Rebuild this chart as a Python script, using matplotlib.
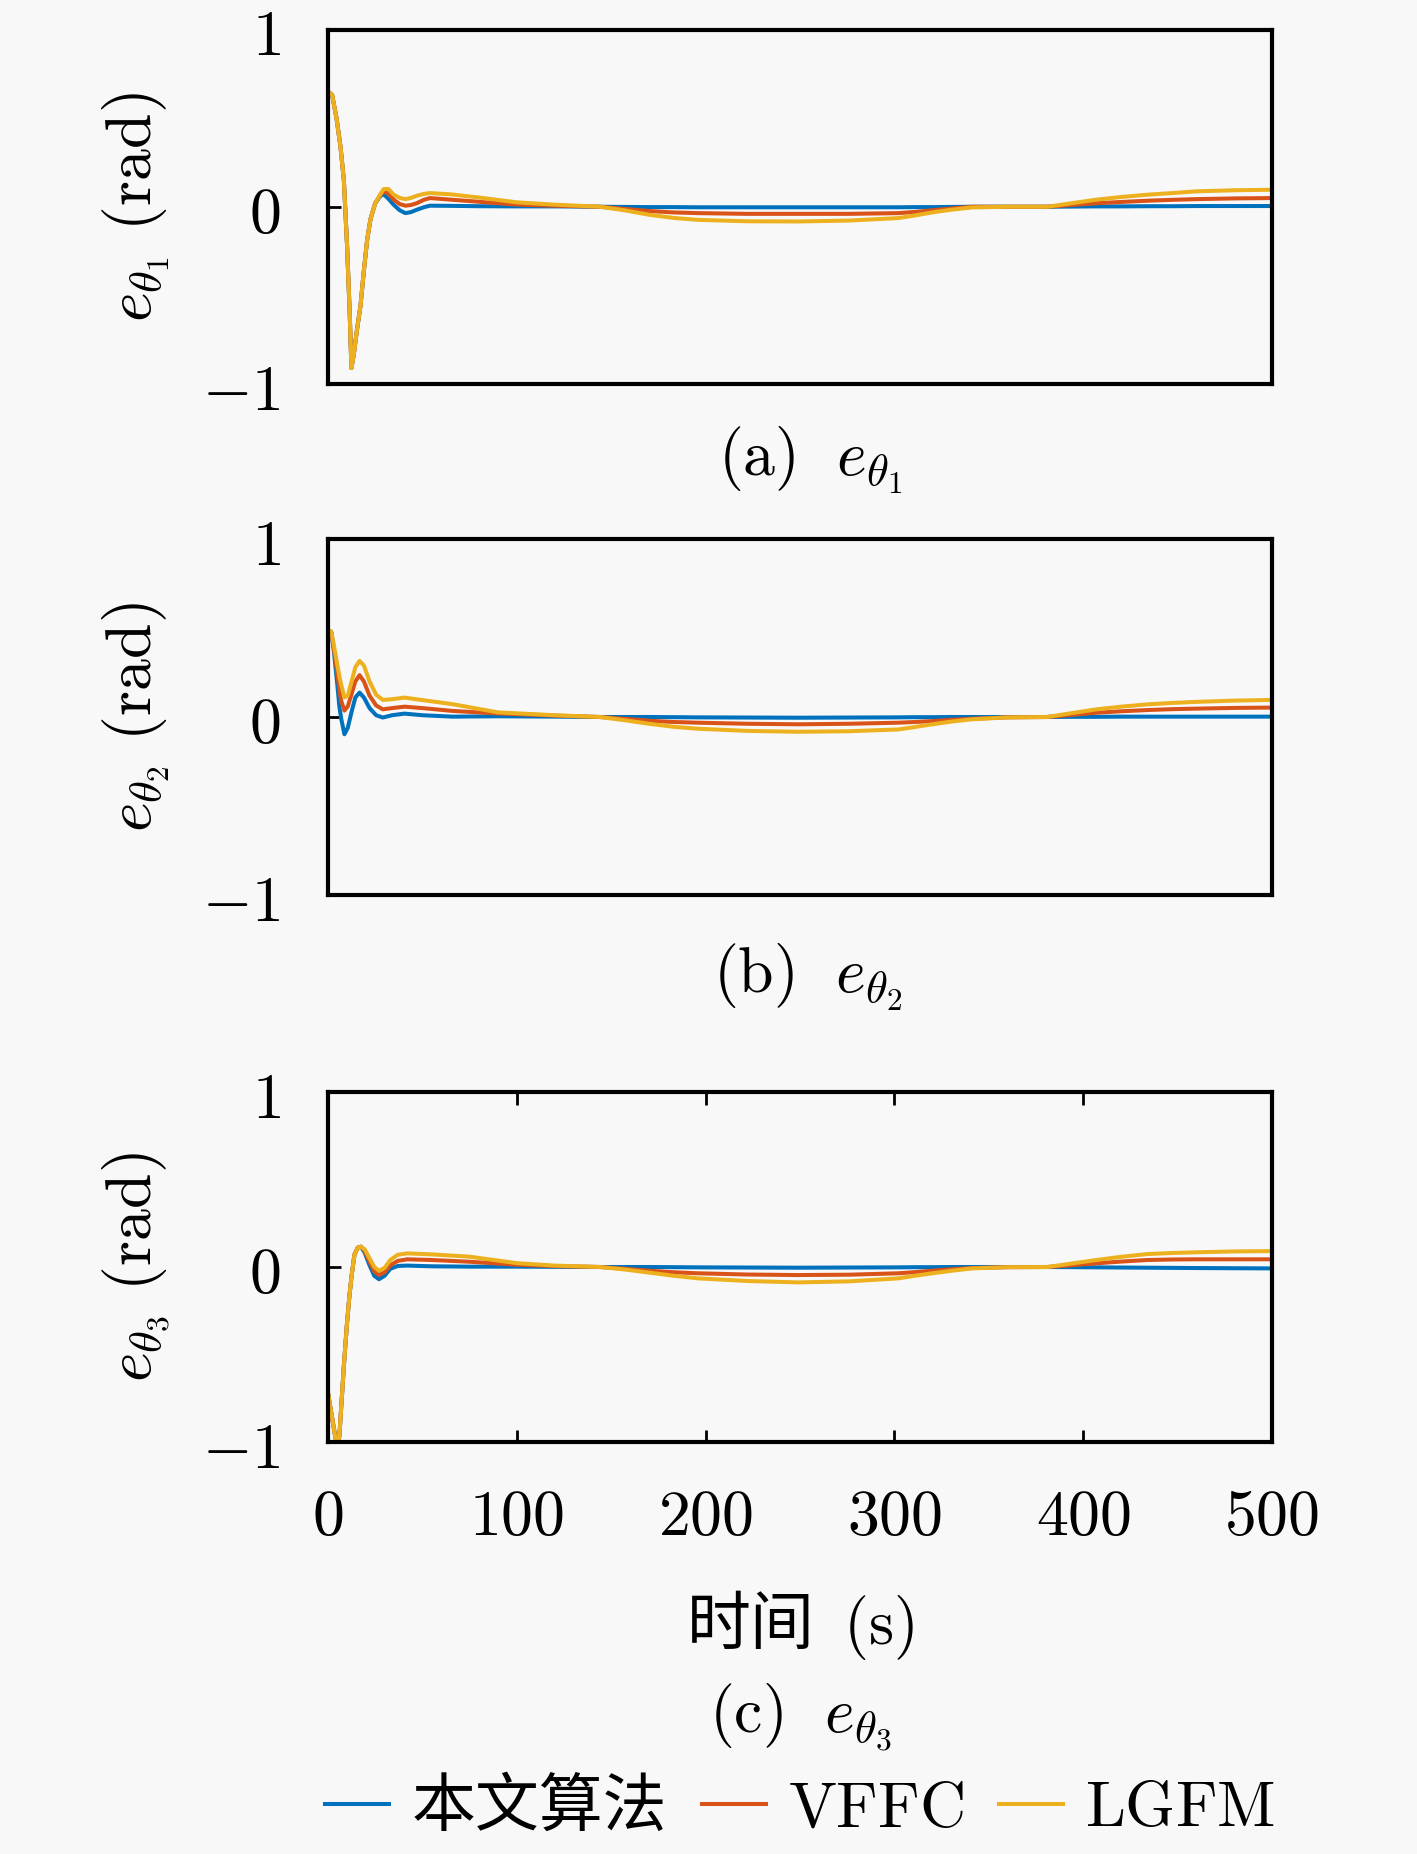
import numpy as np
import matplotlib.pyplot as plt

plt.rcParams['mathtext.fontset'] = 'cm'
plt.rcParams['font.family'] = ['Noto Sans CJK SC', 'DejaVu Sans']

# ---- data ----
x_ticks = [0, 100, 200, 300, 400, 500]
y_ticks = [-1, 0, 1]
labels = ['本文算法', r'$\mathrm{VFFC}$', r'$\mathrm{LGFM}$']
colors = ['#0072BD', '#D95319', '#EDB120']

# common slow part of the time axis
t_tail = [120, 144, 157, 170, 183, 196, 222, 249, 276, 302, 311, 320, 330, 341, 360, 381,
          394, 407, 420, 434, 447, 460, 480, 500]

# (a) e_theta1
t_a = [0, 2.2, 4.5, 6.6, 8.4, 10.1, 11.5, 12.4, 13.7, 15.4, 17.2, 19, 20.7, 22.5, 25, 27.8,
       29.5, 32, 34.8, 38, 41, 44, 47, 51, 54, 65, 80, 100] + t_tail
a_ours = [0.65, 0.63, 0.5, 0.34, 0.15, -0.22, -0.6, -0.91, -0.83, -0.69, -0.56, -0.36, -0.19, -0.07, 0.02, 0.062,
          0.07, 0.045, 0.011, -0.02, -0.036, -0.03, -0.017, -0.002, 0.006, 0.005, 0.003, 0.002,
          0.002, 0.0, -0.001, -0.002, -0.002, -0.003, -0.003, -0.003, -0.003, -0.003, -0.002, -0.002,
          -0.001, 0.0, 0.0, 0.0, 0.001, 0.002, 0.002, 0.003, 0.003, 0.004, 0.004, 0.004]
a_vffc = [0.65, 0.63, 0.5, 0.34, 0.15, -0.22, -0.6, -0.91, -0.83, -0.69, -0.56, -0.36, -0.19, -0.07, 0.02, 0.068,
          0.085, 0.075, 0.04, 0.015, 0.006, 0.01, 0.02, 0.04, 0.049, 0.04, 0.028, 0.012,
          0.006, 0.0, -0.012, -0.024, -0.032, -0.036, -0.04, -0.04, -0.04, -0.036, -0.029, -0.02,
          -0.01, 0.0, 0.0, 0.0, 0.01, 0.02, 0.027, 0.034, 0.039, 0.043, 0.047, 0.049]
a_lgfm = [0.65, 0.63, 0.5, 0.34, 0.15, -0.22, -0.6, -0.91, -0.83, -0.69, -0.56, -0.36, -0.19, -0.07, 0.02, 0.072,
          0.1, 0.1, 0.068, 0.05, 0.043, 0.05, 0.062, 0.073, 0.077, 0.07, 0.052, 0.025,
          0.012, 0.0, -0.02, -0.045, -0.063, -0.074, -0.082, -0.083, -0.078, -0.064, -0.049, -0.032,
          -0.017, -0.004, 0.0, 0.0, 0.02, 0.04, 0.055, 0.068, 0.077, 0.087, 0.093, 0.096]

# (b) e_theta2
t_b = [0, 1.7, 3, 5, 6, 7, 8.7, 10.5, 12.5, 14.5, 16.7, 19, 22, 25.5, 29, 34, 40.5, 50, 66, 90] + t_tail
b_ours = [0.49, 0.477, 0.38, 0.175, 0.06, -0.01, -0.097, -0.06, 0.03, 0.11, 0.137, 0.11, 0.05, 0.01, -0.003, 0.01,
          0.019, 0.01, 0.002, 0.004,
          0.002, 0.0, 0.0, 0.0, -0.001, -0.002, -0.003, -0.004, -0.003, -0.002, -0.001, -0.001,
          0.0, 0.0, 0.0, 0.0, 0.001, 0.001, 0.002, 0.002, 0.002, 0.002, 0.002, 0.002]
b_vffc = [0.49, 0.477, 0.39, 0.24, 0.156, 0.09, 0.036, 0.06, 0.13, 0.2, 0.235, 0.2, 0.12, 0.065, 0.043, 0.05,
          0.058, 0.05, 0.034, 0.02,
          0.008, 0.0, -0.01, -0.021, -0.028, -0.032, -0.038, -0.041, -0.038, -0.032, -0.028, -0.023,
          -0.016, -0.01, -0.002, 0.0, 0.012, 0.024, 0.032, 0.039, 0.044, 0.047, 0.051, 0.053]
b_lgfm = [0.49, 0.477, 0.41, 0.29, 0.23, 0.18, 0.11, 0.12, 0.2, 0.28, 0.315, 0.29, 0.2, 0.125, 0.096, 0.1,
          0.109, 0.095, 0.072, 0.026,
          0.01, 0.0, -0.018, -0.038, -0.055, -0.066, -0.078, -0.083, -0.08, -0.07, -0.056, -0.041,
          -0.026, -0.013, -0.002, 0.0, 0.022, 0.043, 0.058, 0.071, 0.079, 0.085, 0.092, 0.096]

# (c) e_theta3
t_c = [0, 2, 4, 5, 6, 7, 8.5, 10, 11.3, 12.5, 14, 15.7, 17.5, 19.5, 22, 24.5, 27, 30, 33, 37, 42, 55, 75, 100] + t_tail
c_ours = [-0.72, -0.85, -0.98, -1.0, -0.97, -0.8, -0.55, -0.33, -0.17, -0.05, 0.07, 0.11, 0.116, 0.08, 0.01, -0.05,
          -0.07, -0.05, -0.01, 0.006, 0.008, 0.004, 0.002, 0.002,
          0.001, 0.0, 0.0, 0.0, -0.001, -0.002, -0.003, -0.004, -0.003, -0.002, -0.001, -0.001,
          0.0, 0.0, 0.0, 0.0, -0.001, -0.002, -0.003, -0.004, -0.005, -0.006, -0.007, -0.008]
c_vffc = [-0.72, -0.85, -0.98, -1.0, -0.97, -0.8, -0.55, -0.33, -0.17, -0.05, 0.07, 0.11, 0.116, 0.09, 0.03, -0.025,
          -0.046, -0.03, 0.01, 0.035, 0.044, 0.04, 0.03, 0.013,
          0.005, 0.0, -0.01, -0.021, -0.03, -0.036, -0.043, -0.046, -0.044, -0.036, -0.029, -0.021,
          -0.013, -0.006, -0.001, 0.0, 0.01, 0.021, 0.031, 0.04, 0.043, 0.044, 0.044, 0.044]
c_lgfm = [-0.72, -0.85, -0.98, -1.0, -0.97, -0.8, -0.55, -0.33, -0.17, -0.05, 0.07, 0.11, 0.116, 0.1, 0.05, 0.0,
          -0.021, -0.005, 0.04, 0.07, 0.078, 0.072, 0.059, 0.022,
          0.008, 0.0, -0.014, -0.032, -0.05, -0.065, -0.08, -0.088, -0.082, -0.065, -0.05, -0.036,
          -0.022, -0.008, -0.001, 0.0, 0.02, 0.04, 0.058, 0.074, 0.08, 0.084, 0.089, 0.091]

panels = [
    (t_a, [a_ours, a_vffc, a_lgfm], 1, 'a'),
    (t_b, [b_ours, b_vffc, b_lgfm], 2, 'b'),
    (t_c, [c_ours, c_vffc, c_lgfm], 3, 'c'),
]

W, H = 1417, 1854
fs = 46
bg = '#f8f8f8'

fig = plt.figure(figsize=(W / 100, H / 100), dpi=100, facecolor=bg)

# axes boxes in pixels: (top, bottom)
boxes = [(29.5, 384), (539, 895), (1092, 1442)]
left_px, right_px = 328, 1272
cap_y = [460, 977, 1717]
cap_x = [810, 808, 800]
xc = (left_px + right_px) / 2 / W

for i, (t, series, k, tag) in enumerate(panels):
    top, bot = boxes[i]
    ax = fig.add_axes([left_px / W, 1 - bot / H, (right_px - left_px) / W, (bot - top) / H])
    ax.set_facecolor(bg)
    for y, c in zip(series, colors):
        ax.plot(t, y, color=c, lw=2.9, solid_joinstyle='round')
    ax.set_xlim(0, 500)
    ax.set_ylim(-1, 1)
    ax.set_yticks(y_ticks)
    ax.set_yticklabels([r'$%d$' % v if v >= 0 else r'$-%d$' % -v for v in y_ticks], fontsize=fs)
    ax.set_xticks(x_ticks)
    for s in ax.spines.values():
        s.set_linewidth(3)
    ax.tick_params(axis='y', direction='in', length=9, width=2, pad=34, left=True, right=False)
    if i < 2:
        ax.tick_params(axis='x', bottom=False, top=False, labelbottom=False)
    else:
        ax.set_xticklabels([r'$%d$' % v for v in x_ticks], fontsize=fs)
        ax.tick_params(axis='x', direction='in', length=9, width=2, pad=30, top=True, bottom=True)
    fig.text(136 / W, 1 - (top + bot) / 2 / H, r'$e_{\theta_%d}\ (\mathrm{rad})$' % k,
             rotation=90, ha='center', va='center', fontsize=fs)
    fig.text(cap_x[i] / W, 1 - cap_y[i] / H, r'$(\mathrm{%s})\ \ e_{\theta_%d}$' % (tag, k),
             ha='center', va='center', fontsize=fs)
    if i == 2:
        handles = ax.get_lines()

fig.text(xc, 1 - 1625 / H, '时间 $\\;(\\mathrm{s})$', ha='center', va='center', fontsize=fs)

fig.legend(handles, labels, loc='center', bbox_to_anchor=(xc, 1 - 1808 / H), ncol=3,
           frameon=False, handlelength=1.0, handletextpad=0.35, columnspacing=0.55,
           fontsize=fs, borderpad=0)

fig.savefig('out.png', dpi=100, facecolor=bg)
